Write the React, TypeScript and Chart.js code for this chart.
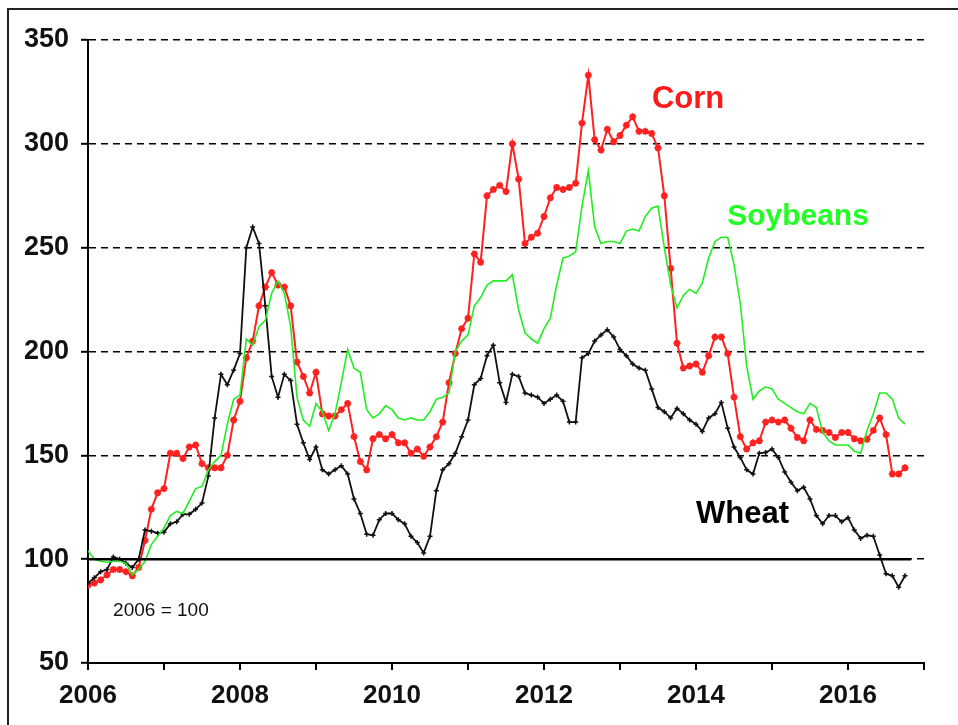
import React, { useEffect, useRef } from "react";
import { Chart, registerables } from "chart.js";

Chart.register(...registerables);

const START_YEAR = 2006;

// Monthly index values (2006 = 100), Jan 2006 .. Oct 2016
const corn = [
  87.5, 88.5, 90, 92.5, 95, 95, 94, 92, 96, 109, 124, 132,
  134, 151, 151, 148.5, 154, 155, 146, 144, 144, 144, 150, 167,
  176, 197, 205, 222, 231, 238, 232, 231, 222, 195, 188, 180,
  190, 170, 169, 169, 172, 175, 159, 147, 143, 158, 160, 158,
  160, 156, 156, 151, 153, 149.5, 154, 159, 166, 185, 199, 211,
  216, 247, 243, 275, 278, 280, 277, 300, 283, 252, 255, 257,
  265, 274, 279, 278, 279, 281, 310, 333, 302, 297, 307, 301,
  304, 309, 313, 306, 306, 305, 298, 275, 240, 204, 192, 193,
  194, 190, 198, 207, 207, 199, 178, 159, 153, 156, 157, 166,
  167, 166, 167, 163, 158.6, 157, 167, 162.5, 162, 161, 158.6, 161,
  161, 158, 157, 157.7, 162, 168, 160, 141, 141, 144,
];

const wheat = [
  88.5, 91, 94, 95, 101, 100, 98, 96, 100, 114, 113.5, 112.5,
  113, 117, 118, 121.6, 121.6, 124, 127, 140, 168, 189, 184, 191,
  199, 250, 260, 252, 222, 188, 178, 189, 186, 165, 156, 148,
  154, 143, 141, 143, 145, 141, 129, 122, 112, 111.5, 119, 122,
  122, 119, 117, 111, 108, 103, 111, 133, 143, 146, 151, 159,
  167, 184, 187, 198, 203, 185, 175.5, 189, 188, 180, 179, 178,
  175, 177, 179, 176, 166, 166, 197, 199, 205, 208, 210.5, 207,
  201, 198, 194, 192, 191, 182, 173, 171, 168, 172.6, 170, 167,
  165, 161.5, 168, 170, 175.5, 163, 154, 149, 143, 141, 151, 151.4,
  153, 149, 142, 137, 133, 134.6, 129, 121, 117, 121, 121, 118,
  120, 114, 110, 111.5, 111, 102, 93, 92, 86.5, 92,
];

const soybeans = [
  104, 100, 99, 98.5, 99, 99, 98, 92.5, 95, 99, 107, 111,
  115, 121, 123, 122, 128, 134, 135, 143, 147, 150, 165, 177,
  179, 206, 203, 212, 215, 228, 234, 228, 212, 178, 167, 164,
  175, 171, 162, 170, 185, 201, 192, 190, 172, 168, 170, 174,
  172, 168, 167, 168, 167, 167, 171, 177, 178, 180, 200, 205,
  208, 222, 226, 232, 234, 234, 234, 237, 220, 209, 206, 204,
  211, 216, 232, 245, 246, 248, 270, 287, 260, 252, 253, 253,
  252, 258, 259, 258, 265, 269, 270, 250, 232, 221, 227, 230,
  228, 233, 245, 253, 255, 255, 242, 223, 193, 177, 181, 183,
  182, 177, 175, 173, 171, 170, 175, 173, 161, 157, 155, 155,
  155, 152, 151, 162, 170, 180, 180, 177, 168, 165,
];

// Base line (2006 = 100)
const baseLineX = [2006, 2016.83];
const baseLineY = [100, 100];

const yMin = 50;
const yMax = 350;
const yStep = 50;
const xMin = 2006;
const xMax = 2017;
const xLabelYears = [2006, 2008, 2010, 2012, 2014, 2016];

// Text annotations: [text, x(year), y(value), color, font]
const annotations: [string, number, number, string, string][] = [
  ["Corn", 2013.42, 317.3, "#ff1a1a", "bold 31px 'Liberation Sans', Arial, sans-serif"],
  ["Soybeans", 2014.41, 261, "#22ff22", "bold 30px 'Liberation Sans', Arial, sans-serif"],
  ["Wheat", 2014.0, 117.3, "#000000", "bold 31px 'Liberation Sans', Arial, sans-serif"],
  ["2006 = 100", 2006.33, 72.6, "#111111", "19px 'Liberation Sans', Arial, sans-serif"],
];

const toPoints = (arr: number[]) => arr.map((v, i) => ({ x: START_YEAR + i / 12, y: v }));

const FONT = "'Liberation Sans', Arial, sans-serif";

export default function App() {
  const canvasRef = useRef<HTMLCanvasElement | null>(null);

  useEffect(() => {
    if (!canvasRef.current) return;

    const framePlugin = {
      id: "frame",
      beforeDraw(chart: any) {
        const { ctx, width, height } = chart;
        ctx.save();
        ctx.fillStyle = "#ffffff";
        ctx.fillRect(0, 0, width, height);
        ctx.strokeStyle = "#222222";
        ctx.lineWidth = 2;
        ctx.beginPath();
        ctx.moveTo(8, height);
        ctx.lineTo(8, 9);
        ctx.lineTo(width, 9);
        ctx.stroke();
        ctx.restore();
      },
      afterDatasetsDraw(chart: any) {
        const { ctx } = chart;
        const xs = chart.scales.x;
        const ys = chart.scales.y;
        ctx.save();
        ctx.textAlign = "left";
        ctx.textBaseline = "alphabetic";
        for (const [text, xv, yv, color, font] of annotations) {
          ctx.fillStyle = color;
          ctx.font = font;
          ctx.fillText(text, xs.getPixelForValue(xv), ys.getPixelForValue(yv));
        }
        ctx.restore();
      },
    };

    const chart = new Chart(canvasRef.current, {
      type: "line",
      data: {
        datasets: [
          {
            label: "Base",
            data: baseLineX.map((x, i) => ({ x, y: baseLineY[i] })),
            borderColor: "#000000",
            borderWidth: 2.5,
            pointRadius: 0,
          },
          {
            label: "Soybeans",
            data: toPoints(soybeans),
            borderColor: "#22ee22",
            borderWidth: 1.6,
            pointRadius: 0,
            tension: 0,
          },
          {
            label: "Wheat",
            data: toPoints(wheat),
            borderColor: "#111111",
            borderWidth: 1.8,
            pointRadius: 2.5,
            pointStyle: "cross",
            pointBorderColor: "#111111",
            pointBorderWidth: 1.5,
            tension: 0,
          },
          {
            label: "Corn",
            data: toPoints(corn),
            borderColor: "#ff2020",
            borderWidth: 2,
            pointRadius: 3.5,
            pointStyle: "star",
            pointBorderColor: "#ff2020",
            pointBackgroundColor: "#ff2020",
            pointBorderWidth: 2,
            tension: 0,
          },
        ],
      },
      options: {
        animation: false,
        responsive: false,
        devicePixelRatio: 1,
        layout: { padding: { top: 40, right: 34, bottom: 0, left: 0 } },
        plugins: {
          legend: { display: false },
          tooltip: { enabled: false },
        },
        scales: {
          x: {
            type: "linear",
            min: xMin,
            max: xMax,
            afterFit: (scale: any) => {
              scale.height = 62;
            },
            ticks: {
              stepSize: 1,
              autoSkip: false,
              maxRotation: 0,
              padding: 10,
              color: "#111111",
              font: { family: FONT, size: 26, weight: "bold" },
              callback: (v: any) => (xLabelYears.includes(Number(v)) ? String(v) : ""),
            },
            grid: {
              drawOnChartArea: false,
              drawTicks: true,
              tickLength: 7,
              tickColor: "#000000",
              lineWidth: 2,
            },
            border: { display: true, color: "#000000", width: 2 },
          },
          y: {
            min: yMin,
            max: yMax,
            afterFit: (scale: any) => {
              scale.width = 88;
            },
            ticks: {
              stepSize: yStep,
              padding: 12,
              color: "#111111",
              font: { family: FONT, size: 27, weight: "bold" },
            },
            grid: {
              color: (ctx: any) => (ctx.tick && ctx.tick.value === yMin ? "rgba(0,0,0,0)" : "#000000"),
              lineWidth: 1.6,
              drawTicks: true,
              tickLength: 7,
              tickColor: "#000000",
              tickBorderDash: [],
              tickWidth: 2,
            } as any,
            border: { display: true, color: "#000000", width: 2, dash: [7, 5] },
          },
        },
      } as any,
      plugins: [framePlugin],
    });

    return () => chart.destroy();
  }, []);

  return (
    <div style={{ position: "fixed", left: 0, top: 0, width: 958, height: 725, background: "#fff" }}>
      <canvas ref={canvasRef} width={958} height={725} style={{ display: "block" }} />
    </div>
  );
}
